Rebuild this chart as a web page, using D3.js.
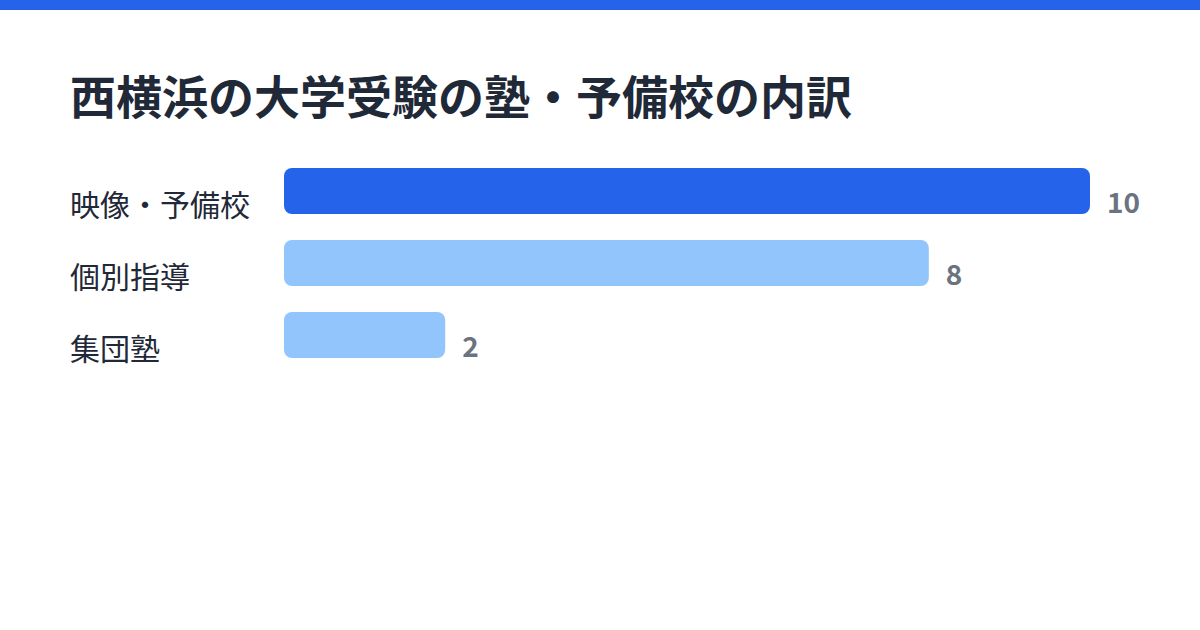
<!DOCTYPE html>
<html>
<head>
<meta charset="utf-8">
<script src="https://cdn.jsdelivr.net/npm/d3@7"></script>
<style>
  html, body { margin: 0; padding: 0; background: #ffffff; }
  svg { display: block; font-family: "Noto Sans CJK JP", "Noto Sans", sans-serif; }
</style>
</head>
<body>
<svg id="chart" width="1200" height="630"></svg>
<script>
// data
const title = "西横浜の大学受験の塾・予備校の内訳";
const categories = ["映像・予備校", "個別指導", "集団塾"];
const counts = [10, 8, 2];

const svg = d3.select("#chart");
const width = 1200;

// top accent stripe
svg.append("rect")
    .attr("x", 0)
    .attr("y", 0)
    .attr("width", width)
    .attr("height", 10)
    .attr("fill", "#2563eb");

// title
svg.append("text")
    .attr("x", 70)
    .attr("y", 114)
    .text(title)
    .style("font-size", "46px")
    .style("font-weight", 700)
    .style("fill", "#1f2937");

// scales
const x = d3.scaleLinear()
    .domain([0, d3.max(counts)])
    .range([284, 1090]);

// 46px bars on a 72px step
const y = d3.scaleBand()
    .domain(categories)
    .range([168, 358])
    .paddingInner(26 / 72)
    .paddingOuter(0);

const rows = categories.map((c, i) => ({ name: c, value: counts[i], first: i === 0 }));

const row = svg.selectAll("g.row")
    .data(rows)
    .join("g")
    .attr("class", "row");

// category labels
row.append("text")
    .attr("x", 70)
    .attr("y", d => y(d.name) + 48)
    .text(d => d.name)
    .style("font-size", "30px")
    .style("fill", "#1f2937");

// bars
row.append("rect")
    .attr("x", x(0))
    .attr("y", d => y(d.name))
    .attr("width", d => x(d.value) - x(0))
    .attr("height", y.bandwidth())
    .attr("rx", 8)
    .attr("fill", d => d.first ? "#2563eb" : "#93c5fd");

// value labels
row.append("text")
    .attr("x", d => x(d.value) + 17)
    .attr("y", d => y(d.name) + 45)
    .text(d => d.value)
    .style("font-size", "28px")
    .style("font-weight", 700)
    .style("fill", "#6b7280");
</script>
</body>
</html>
